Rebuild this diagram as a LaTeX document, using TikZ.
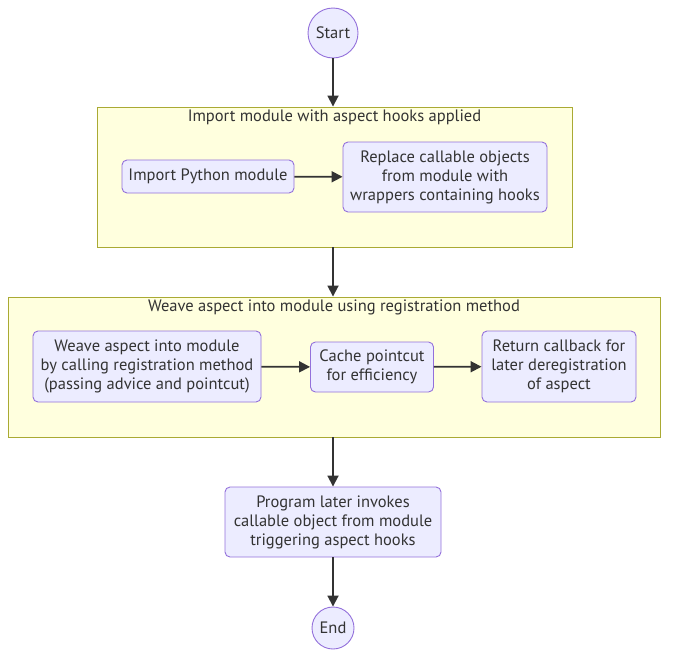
\documentclass[tikz,border=0pt]{standalone}
\usepackage{fontspec}
\setmainfont{PT Sans}
\usetikzlibrary{arrows.meta}
\definecolor{nodefill}{HTML}{ECECFF}
\definecolor{nodeline}{HTML}{9370DB}
\definecolor{clfill}{HTML}{FFFFDE}
\definecolor{clline}{HTML}{AAAA33}
\definecolor{ink}{HTML}{333333}
\begin{document}
\begin{tikzpicture}[x=1pt,y=-1pt,
  every node/.style={font=\fontsize{16.5}{19}\selectfont, text=ink},
  proc/.style={draw=nodeline, fill=nodefill, line width=0.9pt, rounded corners=5pt, align=center, inner sep=0pt},
  term/.style={draw=nodeline, fill=nodefill, line width=0.9pt, circle, inner sep=0pt},
  cluster/.style={draw=clline, fill=clfill, line width=0.9pt, inner sep=0pt},
  flow/.style={draw=ink, line width=1.8pt, -{Triangle[length=11pt,width=11pt]}}]
\useasboundingbox (0,0) rectangle (676,664);
% clusters
\node[cluster, minimum width=475pt, minimum height=140pt] (c1) at (334.5,177) {};
\node (t1) at (334.5,117.5) {Import module with aspect hooks applied};
\node[cluster, minimum width=652pt, minimum height=140pt] (c2) at (334,367) {};
\node (t2) at (334,307) {Weave aspect into module using registration method};
% nodes
\node[term, minimum size=50pt] (start) at (333,33) {Start};
\node[proc, minimum width=172pt, minimum height=33pt] (imp) at (208,176.5) {Import Python module};
\node[proc, minimum width=204pt, minimum height=70pt] (rep) at (445,177) {Replace callable objects\\from module with\\wrappers containing hooks};
\node[proc, minimum width=228pt, minimum height=71pt] (weave) at (147,366.5) {Weave aspect into module\\by calling registration method\\(passing advice and pointcut)};
\node[proc, minimum width=123pt, minimum height=50pt] (cache) at (372,367) {Cache pointcut\\for efficiency};
\node[proc, minimum width=154pt, minimum height=71pt] (ret) at (559,366.5) {Return callback for\\later deregistration\\of aspect};
\node[proc, minimum width=216pt, minimum height=70pt] (prog) at (333,522) {Program later invokes\\callable object from module\\triggering aspect hooks};
\node[term, minimum size=42pt] (end) at (333,628) {End};
% connectors
\draw[flow] (start) -- (start |- c1.north);
\draw[flow] (imp) -- (rep);
\draw[flow] (start |- c1.south) -- (start |- c2.north);
\draw[flow] (weave) -- (cache);
\draw[flow] (cache) -- (ret);
\draw[flow] (prog |- c2.south) -- (prog);
\draw[flow] (prog) -- (end);
\end{tikzpicture}
\end{document}
